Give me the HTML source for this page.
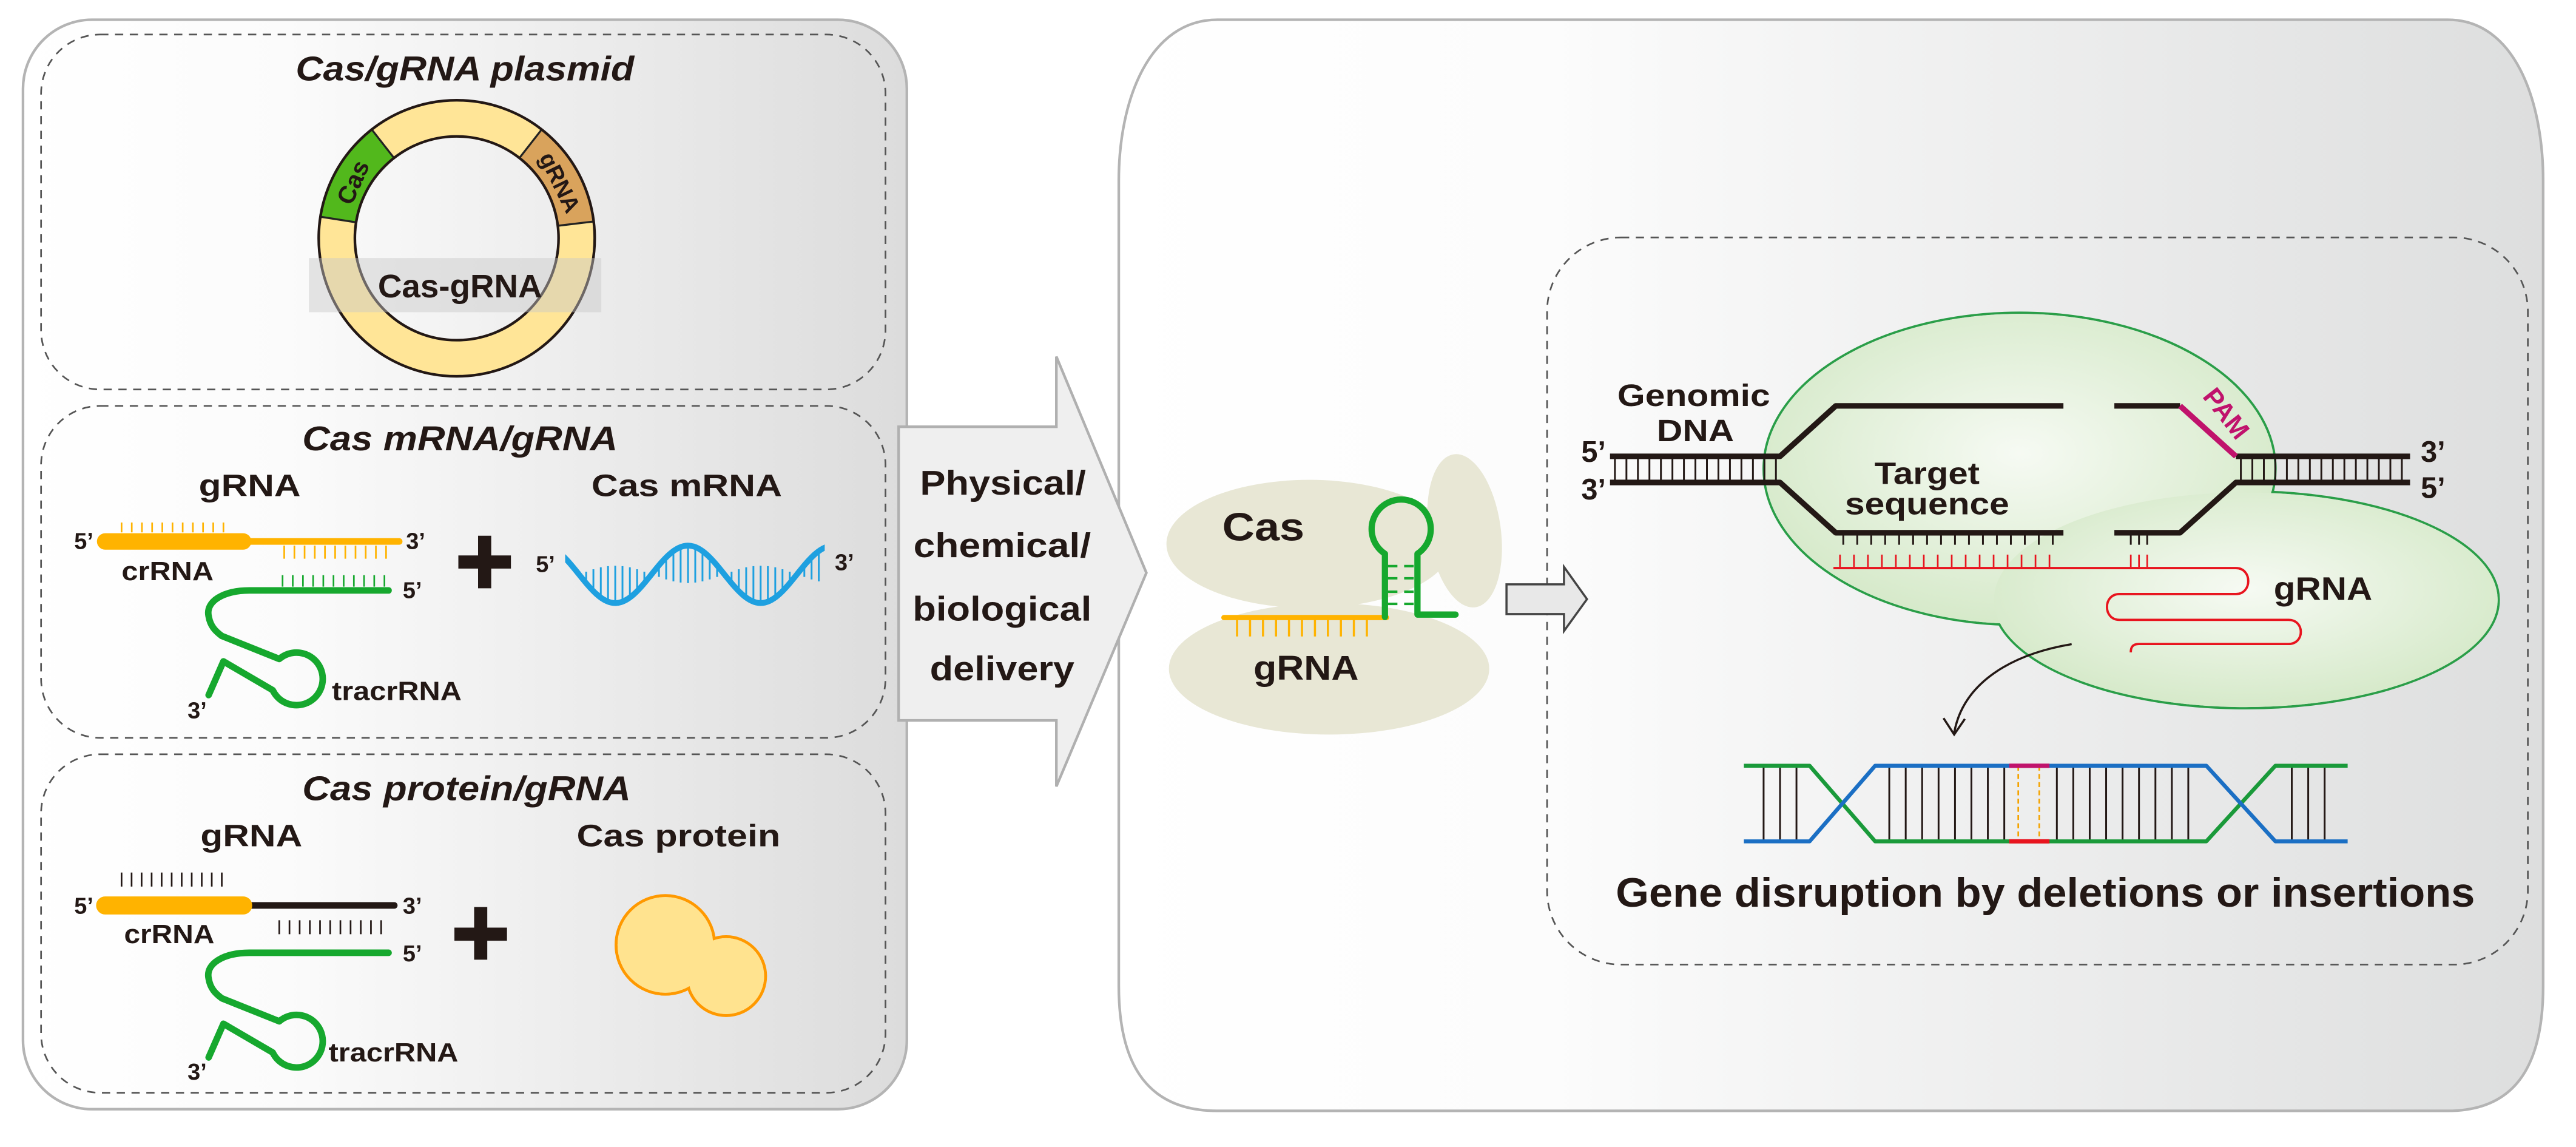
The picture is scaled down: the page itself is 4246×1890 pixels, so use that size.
<!DOCTYPE html>
<html><head><meta charset="utf-8"><style>
html,body{margin:0;padding:0;background:#fff}
svg{display:block}
text{font-family:"Liberation Sans",Arial,sans-serif;font-weight:bold;fill:#231815}
</style></head><body>
<svg width="4246" height="1890" viewBox="0 0 1568 698" preserveAspectRatio="none" xmlns="http://www.w3.org/2000/svg">
<defs>
<linearGradient id="gl" x1="0" y1="0" x2="1" y2="0">
<stop offset="0" stop-color="#ffffff"/><stop offset="0.3" stop-color="#fbfbfb"/><stop offset="1" stop-color="#dcdcdc"/></linearGradient>
<linearGradient id="gr" x1="0" y1="0" x2="1" y2="0">
<stop offset="0" stop-color="#ffffff"/><stop offset="0.3" stop-color="#fcfcfc"/><stop offset="1" stop-color="#dddede"/></linearGradient>
<radialGradient id="gg" cx="0.5" cy="0.45" r="0.6">
<stop offset="0" stop-color="#f6faf3"/><stop offset="1" stop-color="#d3e8c6"/></radialGradient>
<clipPath id="wc"><rect x="344" y="320" width="158" height="60"/></clipPath>
</defs>

<!-- Left panel -->
<rect x="14" y="12" width="538" height="663" rx="42" ry="42" fill="url(#gl)" stroke="#b4b4b4" stroke-width="1.6"/>
<g fill="none" stroke="#555" stroke-width="1" stroke-dasharray="5,4">
<rect x="25" y="21" width="514" height="216" rx="36"/>
<rect x="25" y="247" width="514" height="202" rx="36"/>
<rect x="25" y="459" width="514" height="206" rx="36"/>
</g>

<!-- Box 1 plasmid -->
<text x="283" y="49" font-size="21" font-style="italic" text-anchor="middle" textLength="206" lengthAdjust="spacingAndGlyphs">Cas/gRNA plasmid</text>
<circle cx="278" cy="145" r="73" fill="none" stroke="#ffe597" stroke-width="22"/>
<path d="M195,131.9 A84 84 0 0 1 226.3,78.8 L239.8,96.1 A62 62 0 0 0 216.8,135.3 Z" fill="#52b81c" stroke="#222" stroke-width="1.2"/>
<path d="M329.7,78.8 A84 84 0 0 1 361.4,134.8 L339.5,137.4 A62 62 0 0 0 316.2,96.1 Z" fill="#d9a35c" stroke="#222" stroke-width="1.2"/>
<circle cx="278" cy="145" r="84" fill="none" stroke="#231815" stroke-width="1.6"/>
<circle cx="278" cy="145" r="62" fill="none" stroke="#231815" stroke-width="1.6"/>
<text x="215" y="116" font-size="15" font-weight="normal" text-anchor="middle" transform="rotate(-66 215 111)">Cas</text>
<text x="341" y="116" font-size="14" font-weight="normal" text-anchor="middle" transform="rotate(64 341 111)">gRNA</text>
<rect x="188" y="157" width="178" height="33" fill="#c8c8c8" opacity="0.45"/>
<text x="280" y="181" font-size="20" text-anchor="middle" textLength="100" lengthAdjust="spacingAndGlyphs">Cas-gRNA</text>

<!-- Box 2 -->
<text x="280" y="274" font-size="21" font-style="italic" text-anchor="middle" textLength="192" lengthAdjust="spacingAndGlyphs">Cas mRNA/gRNA</text>
<text x="152" y="302" font-size="19" text-anchor="middle" textLength="62" lengthAdjust="spacingAndGlyphs">gRNA</text>
<text x="418" y="302" font-size="19" text-anchor="middle" textLength="116" lengthAdjust="spacingAndGlyphs">Cas mRNA</text>
<g font-size="14">
<text x="51" y="334" text-anchor="middle">5’</text>
<text x="253" y="334" text-anchor="middle">3’</text>
<text x="251" y="364" text-anchor="middle">5’</text>
<text x="120" y="437" text-anchor="middle">3’</text>
<text x="332" y="348" text-anchor="middle">5’</text>
<text x="514" y="347" text-anchor="middle">3’</text>
</g>
<line x1="64" y1="329.5" x2="148" y2="329.5" stroke="#ffb300" stroke-width="10" stroke-linecap="round"/>
<line x1="148" y1="329.5" x2="243" y2="329.5" stroke="#ffb300" stroke-width="4" stroke-linecap="round"/>
<path stroke="#ffb300" stroke-width="1" d="M74,318V324M80.2,318V324M86.4,318V324M92.6,318V324M98.8,318V324M105,318V324M111.2,318V324M117.4,318V324M123.6,318V324M129.8,318V324M136,318V324
M173,332V340M179.2,332V340M185.4,332V340M191.6,332V340M197.8,332V340M204,332V340M210.2,332V340M216.4,332V340M222.6,332V340M228.8,332V340M235,332V340"/>
<path stroke="#16a82e" stroke-width="1" d="M172,350V357M178.2,350V357M184.4,350V357M190.6,350V357M196.8,350V357M203,350V357M209.2,350V357M215.4,350V357M221.6,350V357M227.8,350V357M234,350V357"/>
<text x="102" y="353" font-size="16" text-anchor="middle" textLength="56" lengthAdjust="spacingAndGlyphs">crRNA</text>
<path d="M236.5,359.3 L151.8,359.3 C136,359.3 125,366 127,375 C128,381 131,384 135,387 L170,401 A16 16 0 1 1 166,420 L136,402.5 L127,423" fill="none" stroke="#16a82e" stroke-width="4" stroke-linecap="round" stroke-linejoin="round"/>
<text x="241.5" y="426" font-size="16" text-anchor="middle" textLength="79" lengthAdjust="spacingAndGlyphs">tracrRNA</text>
<path d="M295,326V358M279,342H311" stroke="#231815" stroke-width="8"/>
<!-- mRNA wave -->
<g clip-path="url(#wc)">
<path stroke="#1ea0e0" stroke-width="1.1" d="M356.8,354.9V347.9M361.2,359.8V346.4M365.7,363.7V345.2M370.1,366.1V344.5M374.5,367V344.3M378.9,366.1V344.5M383.4,363.7V345.2M387.8,359.8V346.4M392.2,354.9V347.9
M401.1,344.1V351.1M405.5,339.2V352.6M409.9,335.3V353.8M414.3,332.9V354.5M418.8,332V354.8M423.2,332.9V354.5M427.6,335.3V353.8M432,339.2V352.6M436.5,344.1V351.1
M445.3,354.9V347.9M449.7,359.8V346.4M454.2,363.7V345.2M458.6,366.1V344.5M463,367V344.3M467.4,366.1V344.5M471.9,363.7V345.2M476.3,359.8V346.4M480.7,354.9V347.9
M489.6,344.1V351.1M494,339.2V352.6M498.4,335.3V353.8"/>
<path d="M330.25,332 C346.4,332 358.4,367 374.5,367 C390.6,367 402.6,332 418.75,332 C434.9,332 446.9,367 463,367 C479.1,367 491.1,332 507.25,332" fill="none" stroke="#1ea0e0" stroke-width="3.5"/>
</g>

<!-- Box 3 -->
<text x="284" y="487" font-size="21" font-style="italic" text-anchor="middle" textLength="200" lengthAdjust="spacingAndGlyphs">Cas protein/gRNA</text>
<text x="153" y="515" font-size="19" text-anchor="middle" textLength="62" lengthAdjust="spacingAndGlyphs">gRNA</text>
<text x="413" y="515" font-size="19" text-anchor="middle" textLength="124" lengthAdjust="spacingAndGlyphs">Cas protein</text>
<g font-size="14">
<text x="51" y="556" text-anchor="middle">5’</text>
<text x="251" y="556" text-anchor="middle">3’</text>
<text x="251" y="585" text-anchor="middle">5’</text>
<text x="120" y="657" text-anchor="middle">3’</text>
</g>
<path stroke="#231815" stroke-width="1" d="M74,531V539.5M80.1,531V539.5M86.2,531V539.5M92.3,531V539.5M98.4,531V539.5M104.5,531V539.5M110.6,531V539.5M116.7,531V539.5M122.8,531V539.5M128.9,531V539.5M135,531V539.5
M170,560V568.5M176.2,560V568.5M182.4,560V568.5M188.6,560V568.5M194.8,560V568.5M201,560V568.5M207.2,560V568.5M213.4,560V568.5M219.6,560V568.5M225.8,560V568.5M232,560V568.5"/>
<line x1="148" y1="551" x2="240" y2="551" stroke="#231815" stroke-width="4" stroke-linecap="round"/>
<line x1="64" y1="551" x2="148" y2="551" stroke="#ffb300" stroke-width="11" stroke-linecap="round"/>
<text x="103" y="574" font-size="16" text-anchor="middle" textLength="55" lengthAdjust="spacingAndGlyphs">crRNA</text>
<path d="M236.5,579.8 L151.8,579.8 C136,579.8 125,586.5 127,595.5 C128,601.5 131,604.5 135,607.5 L170,621.5 A16 16 0 1 1 166,640.5 L136,623 L127,643.5" fill="none" stroke="#16a82e" stroke-width="4" stroke-linecap="round" stroke-linejoin="round"/>
<text x="239.5" y="646" font-size="16" text-anchor="middle" textLength="79" lengthAdjust="spacingAndGlyphs">tracrRNA</text>
<path d="M292.6,552V584M276.6,568.5H308.6" stroke="#231815" stroke-width="8"/>
<g fill="none" stroke="#ff9900" stroke-width="1.8">
<circle cx="405" cy="575" r="30"/>
<circle cx="442" cy="594" r="24"/>
</g>
<g fill="#ffe38f">
<circle cx="405" cy="575" r="29.1"/>
<circle cx="442" cy="594" r="23.1"/>
</g>

<!-- Right panel -->
<path d="M741,12 H1490 C1530,12 1548,60 1548,110 V600 C1548,650 1530,676 1490,676 H741 C700,676 681,650 681,600 V110 C681,60 700,12 741,12 Z" fill="url(#gr)" stroke="#b4b4b4" stroke-width="1.6"/>
<rect x="941.7" y="144.5" width="597" height="442.5" rx="45" fill="none" stroke="#555" stroke-width="1" stroke-dasharray="5,4"/>

<!-- Delivery arrow -->
<path d="M547,259.7 H643 V217 L697.8,348.6 L643,478.6 V438.4 H547 Z" fill="#efefef" stroke="#b0b0b0" stroke-width="1.6"/>
<g text-anchor="middle" font-size="21">
<text x="610.5" y="301" textLength="101" lengthAdjust="spacingAndGlyphs">Physical/</text>
<text x="610" y="339" textLength="108" lengthAdjust="spacingAndGlyphs">chemical/</text>
<text x="610" y="377.6" textLength="109" lengthAdjust="spacingAndGlyphs">biological</text>
<text x="610" y="414" textLength="88" lengthAdjust="spacingAndGlyphs">delivery</text>
</g>

<!-- Cas complex -->
<g fill="#e8e7d5">
<ellipse cx="891.5" cy="323" rx="22" ry="47" transform="rotate(-8 891.5 323)"/>
<ellipse cx="797" cy="331" rx="87" ry="39"/>
<ellipse cx="809" cy="407" rx="97.5" ry="40"/>
</g>
<text x="769" y="328.8" font-size="24" text-anchor="middle" textLength="50" lengthAdjust="spacingAndGlyphs">Cas</text>
<text x="795" y="413.7" font-size="21" text-anchor="middle" textLength="64" lengthAdjust="spacingAndGlyphs">gRNA</text>
<line x1="745" y1="375.8" x2="844" y2="375.8" stroke="#ffb300" stroke-width="3.2" stroke-linecap="round"/>
<path stroke="#ffb300" stroke-width="1.3" d="M753,375.8V387.3M760.9,375.8V387.3M768.8,375.8V387.3M776.7,375.8V387.3M784.6,375.8V387.3M792.5,375.8V387.3M800.4,375.8V387.3M808.3,375.8V387.3M816.2,375.8V387.3M824.1,375.8V387.3M832,375.8V387.3"/>
<path d="M843,375.5 V337 A18 18 0 1 1 862.8,337 V374 H886" fill="none" stroke="#16a82e" stroke-width="3.8" stroke-linejoin="round" stroke-linecap="round"/>
<path stroke="#16a82e" stroke-width="1.5" d="M844.8,344.5H850.6M854.7,344.5H860.5M844.8,351.9H850.6M854.7,351.9H860.5M844.8,360.1H850.6M854.7,360.1H860.5M844.8,367.5H850.6M854.7,367.5H860.5"/>
<!-- small arrow -->
<path d="M917,355.6 H952 V345 L966,364.6 L952,384 V373.7 H917 Z" fill="#e8e8e8" stroke="#444" stroke-width="1.3"/>

<!-- Green blob -->
<g fill="none" stroke="#2a9e48" stroke-width="1.4">
<ellipse cx="1229.3" cy="285.3" rx="155.8" ry="95"/>
<ellipse cx="1367" cy="365" rx="154" ry="66"/>
</g>
<g fill="url(#gg)">
<ellipse cx="1229.3" cy="285.3" rx="155" ry="94.3"/>
<ellipse cx="1367" cy="365" rx="153.3" ry="65.3"/>
</g>

<!-- DNA -->
<g fill="none" stroke="#231815" stroke-width="3.4" stroke-linejoin="round">
<path d="M980,277.7 H1083.5 L1117.4,247 H1256"/>
<path d="M980,293.6 H1083.5 L1117.4,324.2 H1256"/>
<path d="M1287,247 H1327"/>
<path d="M1361,277.7 H1467"/>
<path d="M1287,324.2 H1327 L1361,293.6 H1467"/>
</g>
<line x1="1327" y1="247" x2="1361" y2="277.7" stroke="#c0136c" stroke-width="3.4"/>
<text x="1355" y="257" font-size="16" style="fill:#c0136c" text-anchor="middle" transform="rotate(52 1355 251.7)">PAM</text>
<path stroke="#231815" stroke-width="1.1" d="M983,278V293M990,278V293M997,278V293M1004,278V293M1011,278V293M1018,278V293M1025,278V293M1032,278V293M1039,278V293M1046,278V293M1053,278V293M1060,278V293M1067,278V293M1074,278V293M1081,278V293
M1364,278V293M1371,278V293M1378,278V293M1385,278V293M1392,278V293M1399,278V293M1406,278V293M1413,278V293M1420,278V293M1427,278V293M1434,278V293M1441,278V293M1448,278V293M1455,278V293M1462,278V293
M1122,325V331.5M1130.5,325V331.5M1139,325V331.5M1147.5,325V331.5M1156,325V331.5M1164.5,325V331.5M1173,325V331.5M1181.5,325V331.5M1190,325V331.5M1198.5,325V331.5M1207,325V331.5M1215.5,325V331.5M1224,325V331.5M1232.5,325V331.5M1241,325V331.5M1249.5,325V331.5M1297,325V331.5M1302,325V331.5M1307,325V331.5"/>
<path stroke="#e8141e" stroke-width="1" d="M1120,337.5V345M1128.5,337.5V345M1137,337.5V345M1145.5,337.5V345M1154,337.5V345M1162.5,337.5V345M1171,337.5V345M1179.5,337.5V345M1188,337.5V345M1196.5,337.5V345M1205,337.5V345M1213.5,337.5V345M1222,337.5V345M1230.5,337.5V345M1239,337.5V345M1247.5,337.5V345M1297,337.5V345M1302,337.5V345M1307,337.5V345"/>
<path d="M1116,345.7 H1361 C1371,345.7 1371,361.5 1361,361.5 H1290 C1280,361.5 1280,377.2 1290,377.2 H1393 C1403,377.2 1403,391.9 1393,391.9 H1302 C1298,391.9 1297,394 1297,397" fill="none" stroke="#e8141e" stroke-width="1.4"/>
<g font-size="18">
<text x="970" y="281" text-anchor="middle">5’</text>
<text x="970" y="304" text-anchor="middle">3’</text>
<text x="1481" y="281" text-anchor="middle">3’</text>
<text x="1481" y="303" text-anchor="middle">5’</text>
</g>
<text x="1031" y="247" font-size="19" text-anchor="middle" textLength="93" lengthAdjust="spacingAndGlyphs">Genomic</text>
<text x="1032" y="268.5" font-size="19" text-anchor="middle" textLength="47" lengthAdjust="spacingAndGlyphs">DNA</text>
<text x="1173" y="294.5" font-size="19" text-anchor="middle" textLength="64" lengthAdjust="spacingAndGlyphs">Target</text>
<text x="1173" y="313" font-size="19" text-anchor="middle" textLength="100" lengthAdjust="spacingAndGlyphs">sequence</text>
<text x="1414" y="365" font-size="20" text-anchor="middle" textLength="60" lengthAdjust="spacingAndGlyphs">gRNA</text>

<!-- curved arrow -->
<path d="M1261,392 C1225,398 1195,415 1189.5,446" fill="none" stroke="#231815" stroke-width="1.3"/>
<path d="M1183,437 L1189.5,447 L1196,437.5" fill="none" stroke="#231815" stroke-width="1.3"/>

<!-- bottom DNA -->
<path stroke="#231815" stroke-width="1.1" d="M1073.5,466V512M1083.5,466V512M1093.5,466V512M1150,466V512M1160,466V512M1170,466V512M1180,466V512M1190,466V512M1200,466V512M1210,466V512M1220,466V512M1252,466V512M1262,466V512M1272,466V512M1282,466V512M1292,466V512M1302,466V512M1312,466V512M1322,466V512M1332,466V512M1395,466V512M1405,466V512M1415,466V512"/>
<path d="M1228.5,466V512M1241.3,466V512" stroke="#f5a300" stroke-width="1" stroke-dasharray="3,2"/>
<g fill="none" stroke-width="2.4" stroke-linejoin="round">
<path d="M1061.5,466 H1101.5 L1141.4,512 H1343 L1385,466 H1429" stroke="#1a9a3a"/>
<path d="M1061.5,512 H1101.5 L1141.4,466 H1343 L1385,512 H1429" stroke="#1b6fc4"/>
</g>
<line x1="1223" y1="466" x2="1247.5" y2="466" stroke="#c0136c" stroke-width="2.6"/>
<line x1="1223" y1="512" x2="1247.5" y2="512" stroke="#e8141e" stroke-width="2.6"/>
<text x="1245" y="551.7" font-size="25" text-anchor="middle" textLength="523" lengthAdjust="spacingAndGlyphs">Gene disruption by deletions or insertions</text>
</svg>
</body></html>
